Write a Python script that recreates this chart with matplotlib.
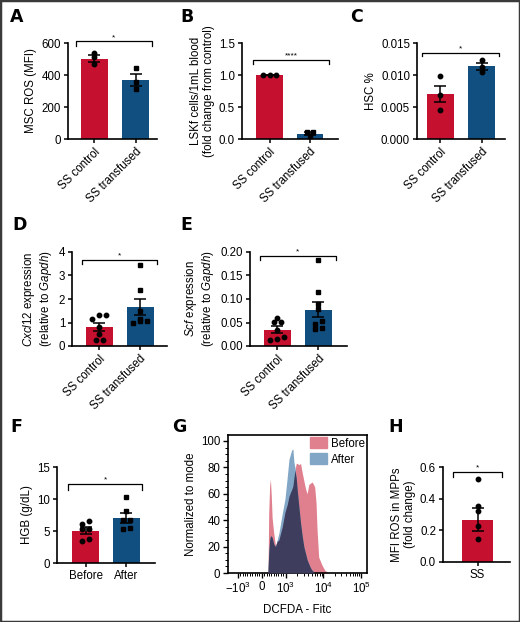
import numpy as np
import matplotlib
matplotlib.use("Agg")
import matplotlib.pyplot as plt
from matplotlib.patches import Rectangle, Patch
from matplotlib.ticker import FixedLocator, MultipleLocator, FormatStrFormatter

plt.rcParams['font.family'] = ['Liberation Sans', 'DejaVu Sans']
plt.rcParams['mathtext.fontset'] = 'custom'
plt.rcParams['mathtext.rm'] = 'Liberation Sans'
plt.rcParams['mathtext.it'] = 'Liberation Sans:italic'
FS = 8.3
plt.rcParams['font.size'] = FS

RED = '#c5112f'
BLUE = '#114f80'

# --- data ---
ss_groups = ["SS control", "SS transfused"]

ros_control = [537, 512, 471]
ros_transfused = [444, 356, 312]
ros_mean = [502, 371]
ros_sem = [20, 38]

lsk_control = [1.0, 1.0, 1.0]
lsk_transfused = [0.11, 0.11, 0.04]
lsk_mean = [1.0, 0.085]
lsk_sem = [0.003, 0.022]

hsc_control = [0.0098, 0.0068, 0.0045]
hsc_transfused = [0.0124, 0.0113, 0.0104]
hsc_mean = [0.0071, 0.01135]
hsc_sem = [0.00125, 0.0005]

cxcl_control = [1.30, 1.16, 1.31, 0.80, 0.52, 0.27, 0.27]
cxcl_transfused = [3.43, 2.40, 1.48, 1.06, 1.16, 0.98, 1.06]
cxcl_mean = [0.79, 1.66]
cxcl_sem = [0.17, 0.34]

scf_control = [0.060, 0.051, 0.051, 0.035, 0.019, 0.0135, 0.0156]
scf_transfused = [0.1837, 0.1149, 0.0887, 0.0794, 0.0532, 0.0475, 0.0369, 0.0383]
scf_mean = [0.0348, 0.0775]
scf_sem = [0.007, 0.016]

hgb_groups = ["Before", "After"]
hgb_before = [6.05, 6.5, 5.3, 5.37, 3.5, 3.8]
hgb_after = [10.26, 8.1, 6.68, 6.68, 5.26, 5.47]
hgb_mean = [5.05, 7.08]
hgb_sem = [0.5, 0.8]

mpp_groups = ["SS"]
mpp_values = [0.526, 0.354, 0.324, 0.227, 0.146]
mpp_mean = [0.268]
mpp_sem = [0.071]

fitc_x = [250, 262, 291, 330, 362, 400, 433, 503, 574, 645, 716, 858, 971,
          1106, 1224, 1340, 1438, 1560, 1657, 1761, 1909, 2028, 2250, 2483,
          2750, 3037, 3359, 3717, 4110, 4548, 5030, 5500, 5916, 6415, 6813,
          7536, 9220, 11000, 12500, 14000]
before_y = [0, 2, 45, 66, 71, 58, 42, 30, 21, 24, 25, 35, 46, 52, 58, 61, 63,
            66, 72, 78, 83, 83, 82, 83, 76, 70, 64, 60, 67, 68, 69, 67, 65,
            53, 33, 12, 6, 2, 1, 0]
after_y = [0, 3, 15, 25, 28, 28, 27, 22, 20, 25, 30, 45, 56, 73, 86, 90, 93,
           94, 84, 80, 72, 63, 50, 38, 28, 20, 15, 10, 7, 4, 2, 1, 0, 0, 0,
           0, 0, 0, 0, 0]

fig = plt.figure(figsize=(5.2, 6.22), dpi=100)


def box(x0, y0, x1, y1):
    return fig.add_axes([x0 / 520, 1 - y1 / 622, (x1 - x0) / 520, (y1 - y0) / 622])


def swarm_offsets(vals, yrange, px_height, dx, marker_px=3.8):
    vals = np.asarray(vals, dtype=float)
    ry = marker_px / px_height * yrange
    rows = []
    for i in np.argsort(vals, kind='stable'):
        if rows and vals[i] - vals[rows[-1][0]] < ry:
            rows[-1].append(i)
        else:
            rows.append([i])
    offs = np.zeros(len(vals))
    for row in rows:
        n = len(row)
        for k, i in enumerate(row):
            offs[i] = (k - (n - 1) / 2) * dx
    return offs


def bar_panel(ax, groups, points, means, sems, markers, colors, ytop, ystep,
              fmt, ylabel, br, stars, xlim, rotate=True, width=0.66, px_h=96):
    x = np.arange(len(groups))
    ax.bar(x, means, width=width, color=colors, zorder=1)
    ax.errorbar(x, means, yerr=sems, fmt='none', ecolor='black', elinewidth=1.1,
                capsize=4.5, capthick=1.1, zorder=3)
    for i, vals in enumerate(points):
        offs = swarm_offsets(vals, ytop, px_h, 0.17)
        ax.plot(x[i] + offs, vals, linestyle='none', marker=markers[i],
                markersize=3.2, color='black', zorder=4, clip_on=False)
    ax.set_ylim(0, ytop)
    ax.set_xlim(*xlim)
    ax.yaxis.set_major_locator(MultipleLocator(ystep))
    ax.yaxis.set_major_formatter(FormatStrFormatter(fmt))
    ax.set_xticks(x)
    if rotate:
        ax.set_xticklabels(groups, rotation=45, ha='right', va='top',
                           rotation_mode='anchor')
    else:
        ax.set_xticklabels(groups)
    for s in ['top', 'right']:
        ax.spines[s].set_visible(False)
    for s in ['left', 'bottom']:
        ax.spines[s].set_linewidth(1.2)
    ax.tick_params(length=3, width=1.1, labelsize=FS, pad=2)
    ax.set_ylabel(ylabel, fontsize=FS, labelpad=3, linespacing=1.1)
    # significance bracket
    ytop_b, ylow_b = br[2], br[3]
    ax.plot([br[0], br[0], br[1], br[1]], [ylow_b, ytop_b, ytop_b, ylow_b],
            color='black', lw=0.9, clip_on=False, zorder=5)
    ax.text((br[0] + br[1]) / 2, ytop_b + ytop * 0.005, stars, ha='center',
            va='bottom', fontsize=6)


# A
ax = box(68, 43, 157, 139)
bar_panel(ax, ss_groups, [ros_control, ros_transfused], ros_mean, ros_sem,
          ['o', 's'], [RED, BLUE], 600, 200, '%d', 'MSC ROS (MFI)',
          (-0.45, 1.4, 610, 579), '*', (-0.64, 1.52))

# B
ax = box(242, 43, 338, 139)
bar_panel(ax, ss_groups, [lsk_control, lsk_transfused], lsk_mean, lsk_sem,
          ['o', 's'], [RED, BLUE], 1.5, 0.5, '%.1f',
          'LSKf cells/1mL blood\n(fold change from control)',
          (-0.41, 1.47, 1.23, 1.17), '****', (-0.68, 1.69))

# C
ax = box(417, 43, 505, 139)
bar_panel(ax, ss_groups, [hsc_control, hsc_transfused], hsc_mean, hsc_sem,
          ['o', 'o'], [RED, BLUE], 0.015, 0.005, '%.3f', 'HSC %',
          (-0.46, 1.42, 0.0135, 0.0129), '*', (-0.57, 1.57))

# D
ax = box(72, 252, 167, 346)
bar_panel(ax, ss_groups, [cxcl_control, cxcl_transfused], cxcl_mean, cxcl_sem,
          ['o', 's'], [RED, BLUE], 4, 1, '%d',
          '$\\it{Cxcl12}$ expression\n(relative to $\\it{Gapdh}$)',
          (-0.42, 1.42, 3.67, 3.5), '*', (-0.67, 1.66), px_h=94)

# E
ax = box(250, 252, 347, 346)
bar_panel(ax, ss_groups, [scf_control, scf_transfused], scf_mean, scf_sem,
          ['o', 's'], [RED, BLUE], 0.20, 0.05, '%.2f',
          '$\\it{Scf}$ expression\n(relative to $\\it{Gapdh}$)',
          (-0.43, 1.43, 0.191, 0.182), '*', (-0.67, 1.70), px_h=94)

# F
ax = box(57, 467, 155, 563)
bar_panel(ax, hgb_groups, [hgb_before, hgb_after], hgb_mean, hgb_sem,
          ['o', 's'], [RED, BLUE], 15, 5, '%d', 'HGB (g/dL)',
          (-0.42, 1.38, 12.4, 11.4), '*', (-0.7, 1.7), rotate=False)

# H
ax = box(443, 467, 510, 562)
bar_panel(ax, mpp_groups, [mpp_values], mpp_mean, mpp_sem, ['o'], [RED],
          0.6, 0.2, '%.1f', 'MFI ROS in MPPs\n(fold change)',
          (-0.55, 0.55, 0.567, 0.535), '*', (-0.78, 0.73), rotate=False,
          width=0.7, px_h=95)

# G histogram
ax = box(228, 435, 367, 573)
ax.set_xscale('symlog', linthresh=1000, linscale=0.57)
fx = np.array(fitc_x, dtype=float)
yb = np.array(before_y, dtype=float)
ya = np.array(after_y, dtype=float)
ax.fill_between(fx, 0, yb, color='#e0808f', lw=0, zorder=1)
ax.fill_between(fx, 0, ya, color='#82a7c6', lw=0, zorder=2)
ax.fill_between(fx, 0, np.minimum(yb, ya), color='#3e3d5e', lw=0, zorder=3)
ax.set_xlim(-1830, 1.44e5)
ax.set_ylim(0, 104.5)
ax.xaxis.set_major_locator(FixedLocator([-1000, 0, 1000, 1e4, 1e5]))
ax.set_xticklabels(['$-10^3$', '0', '$10^3$', '$10^4$', '$10^5$'])
minor = list(np.arange(-1000, 1001, 100))
minor += [k * 10 ** d for d in (3, 4) for k in range(2, 10)]
ax.xaxis.set_minor_locator(FixedLocator(minor))
ax.yaxis.set_major_locator(MultipleLocator(20))
ax.yaxis.set_minor_locator(MultipleLocator(5))
for s in ax.spines.values():
    s.set_linewidth(1.2)
ax.tick_params(which='major', length=3.5, width=1.0, labelsize=FS, pad=2)
ax.tick_params(which='minor', length=2, width=0.7)
ax.set_ylabel('Normalized to mode', fontsize=FS, labelpad=3)
ax.set_xlabel('DCFDA - Fitc', fontsize=FS, labelpad=6)
ax.legend(handles=[Patch(color='#e0808f', label='Before'),
                   Patch(color='#82a7c6', label='After')],
          loc='upper right', frameon=False, fontsize=FS, handlelength=1.5,
          handleheight=1.1, handletextpad=0.3, borderaxespad=0.1,
          labelspacing=0.3, borderpad=0.1)

# panel letters
for letter, px, py in [('A', 10, 17), ('B', 180, 17), ('C', 350, 17),
                       ('D', 12, 225), ('E', 180, 225), ('F', 10, 427),
                       ('G', 172, 427), ('H', 388, 427)]:
    fig.text(px / 520, 1 - py / 622, letter, fontsize=12.5, fontweight='bold',
             family='DejaVu Sans', ha='left', va='center')

fig.patches.append(Rectangle((0, 0), 1, 1, transform=fig.transFigure,
                             fill=False, lw=2.5, ec='#3a3a3a'))

fig.savefig('out.png', dpi=100)
